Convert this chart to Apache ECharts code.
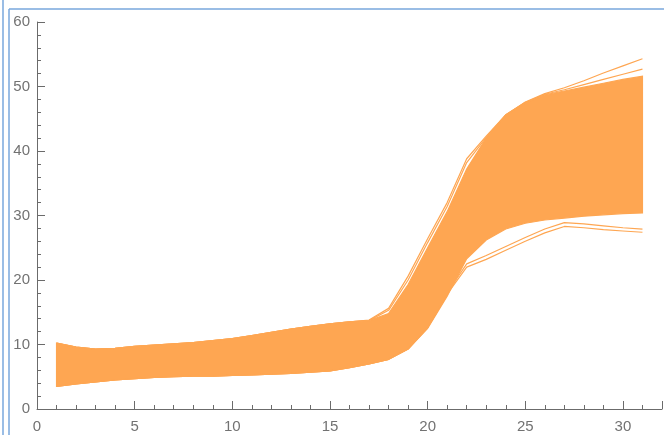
<!DOCTYPE html>
<html>
<head>
<meta charset="utf-8">
<script src="https://cdn.jsdelivr.net/npm/echarts@6/dist/echarts.min.js"></script>
<style>
html,body{margin:0;padding:0;background:#fff;}
#chart{width:664px;height:435px;}
</style>
</head>
<body>
<div id="chart"></div>
<script>
// x positions (time steps)
const steps = [1,2,3,4,5,6,7,8,9,10,11,12,13,14,15,16,17,18,19,20,21,22,23,24,25,26,27,28,29,30,31];
// lower envelope of the dense band
const bandLow = [3.5,3.9,4.2,4.5,4.7,4.9,5.0,5.1,5.1,5.2,5.3,5.4,5.5,5.7,5.9,6.4,7.0,7.7,9.3,12.5,17.5,23.3,26.2,27.9,28.8,29.3,29.6,29.9,30.1,30.3,30.4];
// upper envelope of the dense band
const bandHigh = [10.2,9.6,9.3,9.4,9.7,9.9,10.1,10.3,10.6,10.9,11.4,11.9,12.4,12.8,13.2,13.5,13.7,14.8,19.3,25.0,30.6,37.2,42.0,45.6,47.5,48.7,49.3,49.9,50.5,51.1,51.6];
// individual trajectories that stand out from the band
const upperA = [10.2,9.6,9.3,9.4,9.7,9.9,10.1,10.3,10.6,10.9,11.4,11.9,12.4,12.8,13.2,13.5,13.8,15.6,20.6,26.4,32.0,38.8,42.3,45.6,47.6,48.9,49.8,50.9,52.1,53.2,54.3];
const upperB = [10.2,9.6,9.3,9.4,9.7,9.9,10.1,10.3,10.6,10.9,11.4,11.9,12.4,12.8,13.2,13.5,13.7,15.3,20.0,25.8,31.4,38.2,42.1,45.6,47.5,48.8,49.5,50.3,51.1,51.9,52.7];
const lowerA = [3.5,3.9,4.2,4.5,4.7,4.9,5.0,5.1,5.1,5.2,5.3,5.4,5.5,5.7,5.9,6.4,7.0,7.7,9.3,12.6,17.8,22.0,23.2,24.6,26.0,27.3,28.3,28.1,27.8,27.6,27.4];
const lowerB = [3.5,3.9,4.2,4.5,4.7,4.9,5.0,5.1,5.1,5.2,5.3,5.4,5.5,5.7,5.9,6.4,7.0,7.7,9.3,12.7,18.0,22.5,23.8,25.2,26.6,27.9,28.9,28.7,28.4,28.1,27.9];
// axis ticks
const xTicks = [0,5,10,15,20,25,30];
const yTicks = [0,10,20,30,40,50,60];

const ORANGE = '#fea652';
const pairs = arr => steps.map((s,i)=>[s,arr[i]]);
const lineSeries = (name, arr) => ({
  name, type:'line', data: pairs(arr), symbol:'none', silent:true,
  lineStyle:{color:ORANGE,width:1.2}, z:3
});

const chart = echarts.init(document.getElementById('chart'), null, {renderer:'canvas'});
const axisCommon = {
  axisLine:{show:true,lineStyle:{color:'#6b6b6b',width:1}},
  axisTick:{show:true,inside:true,length:8,lineStyle:{color:'#6b6b6b',width:1}},
  minorTick:{show:true,splitNumber:5,length:4,lineStyle:{color:'#6b6b6b',width:1}},
  splitLine:{show:false},
  axisLabel:{color:'#727272',fontFamily:'Liberation Sans, Arial, sans-serif',fontSize:15}
};
chart.setOption({
  animation:false,
  backgroundColor:'#fff',
  grid:{left:37,top:22,right:2,bottom:26,containLabel:false},
  xAxis:Object.assign({type:'value',min:xTicks[0],max:32,interval:5}, axisCommon,
    {axisLabel:Object.assign({}, axisCommon.axisLabel,{margin:10,showMaxLabel:false})}),
  yAxis:Object.assign({type:'value',min:yTicks[0],max:yTicks[yTicks.length-1],interval:10}, axisCommon,
    {axisLabel:Object.assign({}, axisCommon.axisLabel,{margin:7})}),
  graphic:[
    {type:'line',shape:{x1:3,y1:0,x2:3,y2:435},style:{stroke:'#79a7dc',lineWidth:1.5},z:100},
    {type:'line',shape:{x1:9,y1:9,x2:9,y2:435},style:{stroke:'#79a7dc',lineWidth:1.5},z:100},
    {type:'line',shape:{x1:9,y1:9,x2:664,y2:9},style:{stroke:'#79a7dc',lineWidth:1.5},z:100}
  ],
  series:[
    {name:'band',type:'custom',silent:true,z:2,
     data:[[steps[0],bandLow[0]]],
     renderItem:function(params, api){
       const top = steps.map((s,i)=>api.coord([s,bandHigh[i]]));
       const bot = steps.map((s,i)=>api.coord([s,bandLow[i]])).reverse();
       return {type:'polygon',shape:{points:top.concat(bot)},
               style:{fill:ORANGE,stroke:ORANGE,lineWidth:1.2}};
     }},
    lineSeries('upperA', upperA),
    lineSeries('upperB', upperB),
    lineSeries('lowerA', lowerA),
    lineSeries('lowerB', lowerB)
  ]
});
</script>
</body>
</html>
